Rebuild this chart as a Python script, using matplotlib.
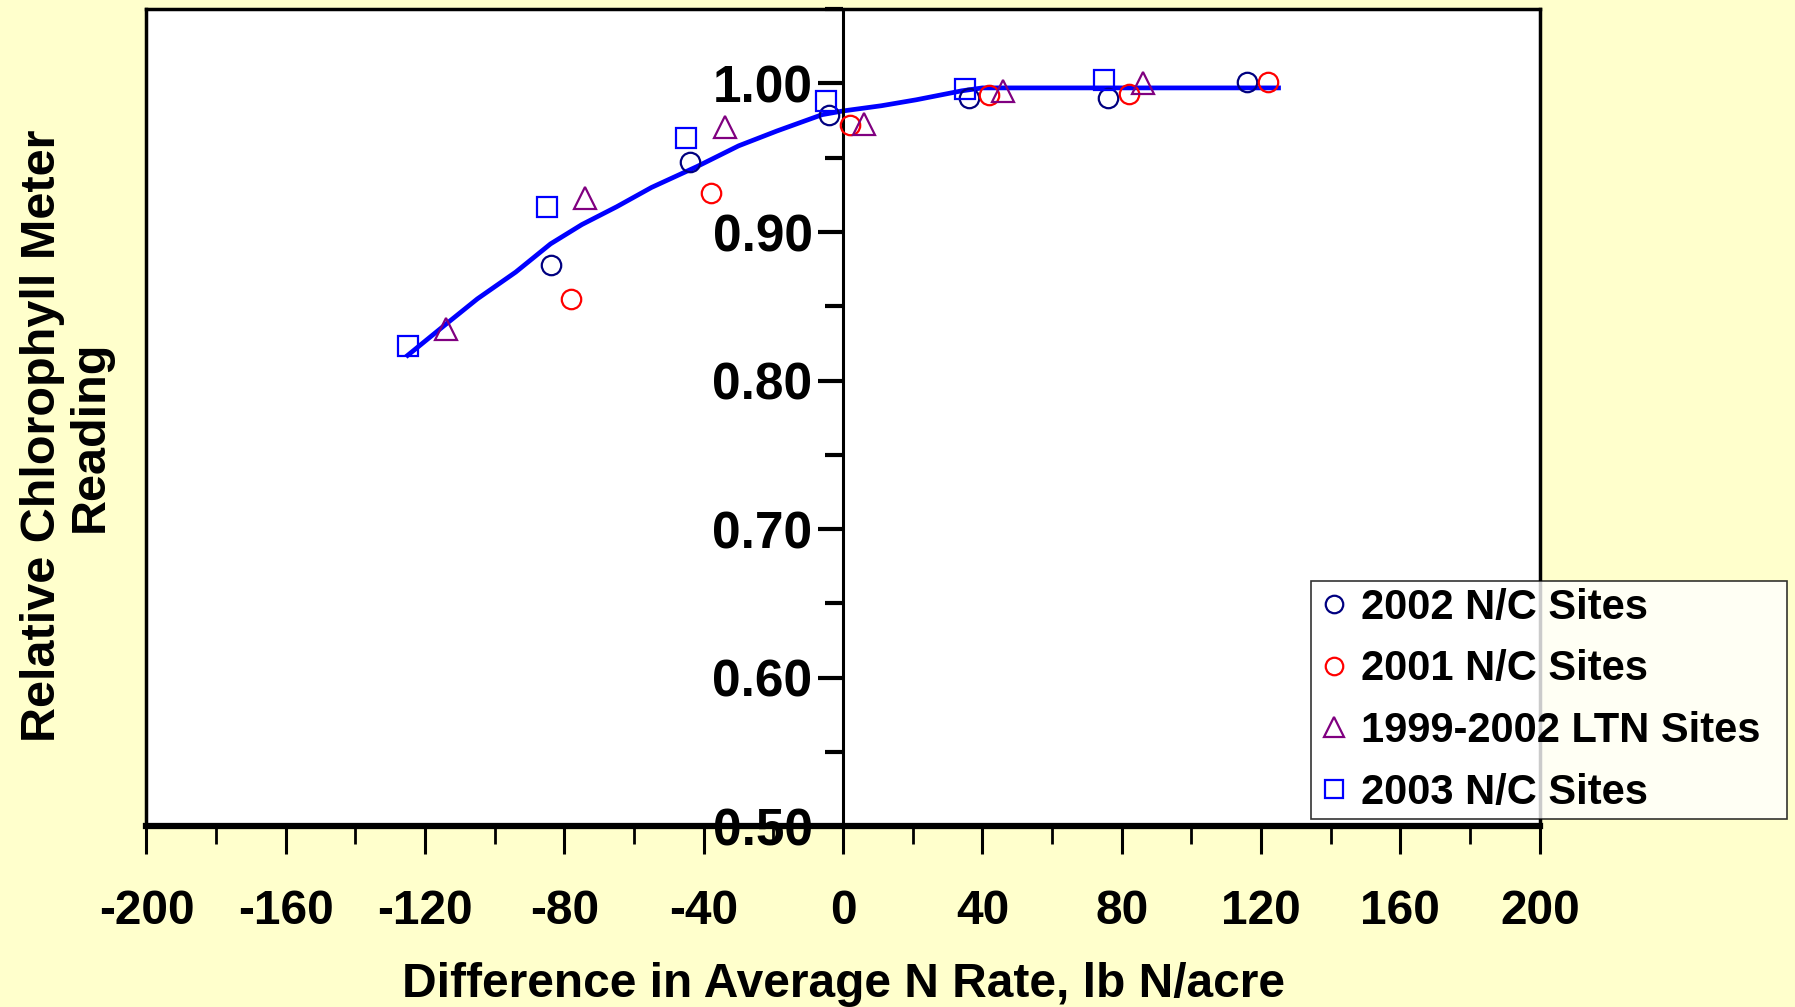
import numpy as np
import matplotlib
matplotlib.use('Agg')
import matplotlib.pyplot as plt
from matplotlib.ticker import MultipleLocator

# Data
x_2002 = [-84, -44, -4, 36, 76, 116]
y_2002 = [0.878, 0.947, 0.979, 0.990, 0.990, 1.001]

x_2001 = [-78, -38, 2, 42, 82, 122]
y_2001 = [0.855, 0.926, 0.972, 0.992, 0.993, 1.001]

x_ltn = [-114, -74, -34, 6, 46, 86]
y_ltn = [0.835, 0.923, 0.971, 0.973, 0.995, 1.000]

x_2003 = [-125, -85, -45, -5, 35, 75]
y_2003 = [0.823, 0.917, 0.963, 0.988, 0.996, 1.002]

# fitted curve
curve_x = [-125, -114, -105, -94, -84, -75, -65, -55, -42, -30, -19, -6, 0, 11, 21, 34, 40, 125]
curve_y = [0.817, 0.838, 0.855, 0.873, 0.892, 0.905, 0.917, 0.930, 0.944, 0.958, 0.968, 0.979,
           0.9815, 0.985, 0.989, 0.995, 0.997, 0.997]

x_ticks = [-200, -160, -120, -80, -40, 0, 40, 80, 120, 160, 200]
y_ticks = [0.50, 0.60, 0.70, 0.80, 0.90, 1.00]

plt.rcParams['font.family'] = ['Liberation Sans', 'DejaVu Sans']
plt.rcParams['font.weight'] = 'bold'

bg = '#FFFFCC'
fig = plt.figure(figsize=(17.95, 10.07), dpi=100, facecolor=bg)
ax = fig.add_axes([0.0816, 0.1795, 0.7762, 0.8114])
ax.set_facecolor('white')

ms = 14
ax.plot(curve_x, curve_y, color='#0000FF', lw=3.4, zorder=2)
ax.plot(x_2002, y_2002, 'o', ms=ms, mfc='none', mec='#000080', mew=1.6, label='2002 N/C Sites', zorder=3)
ax.plot(x_2001, y_2001, 'o', ms=ms, mfc='none', mec='#FF0000', mew=1.6, label='2001 N/C Sites', zorder=3)
ax.plot(x_ltn, y_ltn, '^', ms=ms + 2, mfc='none', mec='#800080', mew=1.6, label='1999-2002 LTN Sites', zorder=3)
ax.plot(x_2003, y_2003, 's', ms=ms, mfc='none', mec='#0000FF', mew=1.6, label='2003 N/C Sites', zorder=3)

ax.set_xlim(-200, 200)
ax.set_ylim(0.50, 1.05)

# y axis sits at x = 0, box drawn around the plot
ax.spines['left'].set_position(('data', 0))
ax.spines['left'].set_linewidth(2.2)
ax.spines['bottom'].set_linewidth(4.5)
ax.spines['top'].set_linewidth(2.5)
ax.spines['right'].set_linewidth(2.5)
ax.axvline(-200, color='k', lw=2.5, clip_on=False, zorder=5)

ax.set_xticks(x_ticks)
ax.set_xticklabels([str(v) for v in x_ticks])
ax.xaxis.set_minor_locator(MultipleLocator(20))
ax.set_yticks(y_ticks)
ax.set_yticklabels(['%.2f' % v for v in y_ticks])
ax.yaxis.set_minor_locator(MultipleLocator(0.05))

ax.tick_params(axis='x', which='major', direction='out', length=20, width=2.2, pad=25, labelsize=34.5)
ax.tick_params(axis='x', which='minor', direction='out', length=13, width=2.0)
ax.tick_params(axis='y', which='major', direction='out', length=18, width=3.0, pad=4, labelsize=37)
ax.tick_params(axis='y', which='minor', direction='out', length=13, width=3.0)
for lab in ax.get_xticklabels() + ax.get_yticklabels():
    lab.set_fontweight('bold')

ax.set_xlabel('Difference in Average N Rate, lb N/acre', fontsize=34.5, fontweight='bold', labelpad=20)
fig.text(0.037, 0.567, 'Relative Chlorophyll Meter\nReading', rotation=90, ha='center', va='center',
         fontsize=35, fontweight='bold', linespacing=1.1)

leg = ax.legend(loc='lower left', bbox_to_anchor=(0.7304, 0.1867, 0.265, 0.241),
                bbox_transform=fig.transFigure, mode='expand', fontsize=30, frameon=True,
                fancybox=False, shadow=False, borderpad=0.15, labelspacing=0.52,
                handlelength=0.8, handletextpad=0.25, markerscale=0.9, borderaxespad=0)
leg.get_frame().set_edgecolor('black')
leg.get_frame().set_linewidth(1.2)
for t in leg.get_texts():
    t.set_fontweight('bold')

fig.savefig('out.png', dpi=100, facecolor=bg)
